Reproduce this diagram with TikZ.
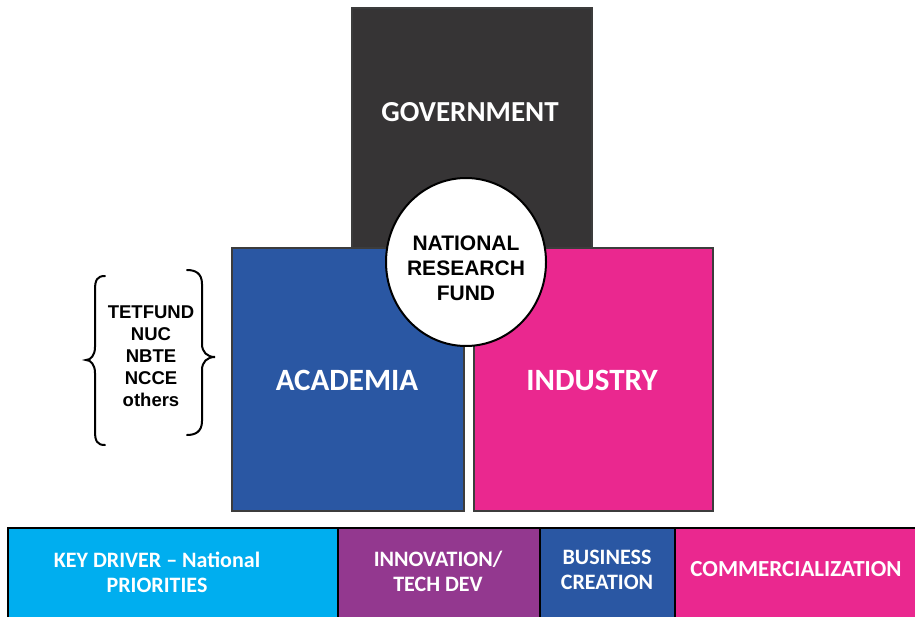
\documentclass[tikz,border=0pt]{standalone}
\usepackage{fontspec}
\setmainfont{Carlito}
\newfontfamily\arialfont{Liberation Sans}
\usetikzlibrary{shapes.geometric}
\definecolor{govgrey}{HTML}{363435}
\definecolor{acablue}{HTML}{2A57A3}
\definecolor{indpink}{HTML}{EA288F}
\definecolor{keycyan}{HTML}{00AEEF}
\definecolor{innpurple}{HTML}{93388F}
\definecolor{edgegrey}{HTML}{3C3C3C}
\begin{document}
\begin{tikzpicture}[x=1pt,y=-1pt,
  panel/.style={draw=edgegrey, line width=1.5pt, inner sep=0pt, anchor=north west},
  cell/.style={draw=black, line width=1.8pt, inner sep=0pt, anchor=north west, minimum height=95pt},
  bigtxt/.style={text=white, font=\fontsize{31}{34}\selectfont\bfseries},
  bartxt/.style={text=white, font=\fontsize{22}{25}\selectfont\bfseries, align=center, inner sep=0pt},
  fundtxt/.style={font=\arialfont\fontsize{21}{25}\selectfont\bfseries, align=center, inner sep=0pt},
  listtxt/.style={font=\arialfont\fontsize{18.5}{22}\selectfont\bfseries, align=center, inner sep=0pt},
  bracestroke/.style={line width=2pt, line cap=round}]
\useasboundingbox (0,0) rectangle (915,616);

% the three sectors
\node[panel, fill=govgrey, minimum width=240pt, minimum height=250pt] (gov) at (351,7) {};
\node[bigtxt, font=\fontsize{29}{32}\selectfont\bfseries] (govtxt) at (470,112) {GOVERNMENT};
\node[panel, fill=acablue, minimum width=232pt, minimum height=263pt] (aca) at (231,247) {};
\node[bigtxt] (acatxt) at (347,380) {ACADEMIA};
\node[panel, fill=indpink, minimum width=239pt, minimum height=263pt] (ind) at (473,247) {};
\node[bigtxt] (indtxt) at (592,380) {INDUSTRY};

% central fund
\node[ellipse, draw=black, line width=2pt, fill=white, minimum width=160pt, minimum height=168pt, inner sep=0pt] (nrf) at (466,262) {};
\node[fundtxt] (nrftxt) at (466,268) {NATIONAL\\RESEARCH\\FUND};

% agencies in braces
\node[listtxt] (agencies) at (151,356) {TETFUND\\NUC\\NBTE\\NCCE\\others};
\draw[bracestroke] (105,276) .. controls (97,276) and (95,280) .. (95,290) -- (95,347)
  .. controls (95,355) and (91,360) .. (86,360)
  .. controls (91,360) and (95,365) .. (95,373) -- (95,431)
  .. controls (95,441) and (97,445) .. (105,445);
\draw[bracestroke] (187,270) .. controls (195,270) and (202,273) .. (202,284) -- (202,344)
  .. controls (202,352) and (207,357) .. (215,357)
  .. controls (207,357) and (202,362) .. (202,370) -- (202,421)
  .. controls (202,432) and (195,435) .. (187,435);

% bottom bar, running off the right and lower edges
\node[cell, fill=keycyan, minimum width=330pt] (key) at (7,527) {};
\node[cell, fill=innpurple, minimum width=202pt] (inn) at (337,527) {};
\node[cell, fill=acablue, minimum width=135pt] (bus) at (539,527) {};
\node[cell, fill=indpink, minimum width=300pt] (com) at (674,527) {};
\node[bartxt] (keytxt) at (157,572) {KEY DRIVER -- National\\PRIORITIES};
\node[bartxt] (inntxt) at (438,571) {INNOVATION/\\TECH DEV};
\node[bartxt] (bustxt) at (607,570) {BUSINESS\\CREATION};
\node[bartxt, font=\fontsize{23}{25}\selectfont\bfseries] (comtxt) at (796,569) {COMMERCIALIZATION};
\end{tikzpicture}
\end{document}
